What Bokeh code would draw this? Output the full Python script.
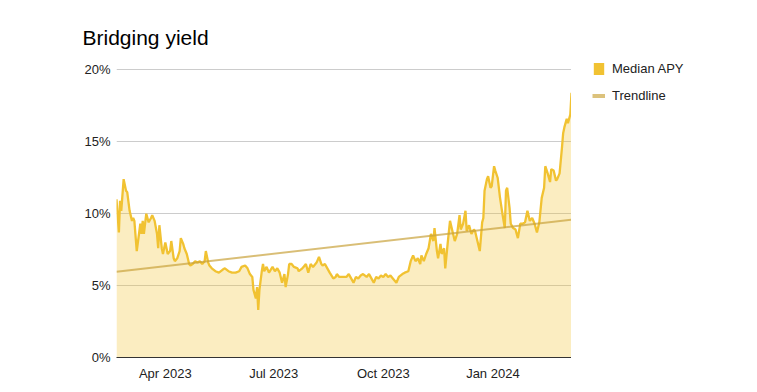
import pandas as pd
from bokeh.plotting import figure
from bokeh.layouts import row
from bokeh.models import (FixedTicker, DatetimeTickFormatter, PrintfTickFormatter,
                          Range1d, Legend, LegendItem, ColumnDataSource)
from bokeh.embed import file_html
from bokeh.resources import INLINE

# ---------------- data ----------------
start_date = "2023-02-19"
# day offsets from start_date
day = [0, 2, 3, 4, 6, 8, 9, 11, 13, 14, 15, 17, 20, 21, 22, 23, 25, 27, 29, 30,
       32, 34, 35, 36, 38, 39, 41, 43, 45, 46, 48, 49, 51, 53, 54, 56, 57, 59, 61, 62,
       64, 66, 68, 70, 72, 74, 75, 77, 78, 80, 83, 86, 89, 91, 94, 97, 100, 103, 105, 108,
       110, 112, 114, 115, 117, 118, 119, 120, 122, 123, 124, 126, 128, 131, 133, 135, 137, 139, 141, 142,
       144, 145, 147, 149, 152, 153, 156, 157, 159, 161, 163, 165, 167, 168, 170, 172, 173, 175, 177, 179,
       182, 184, 185, 187, 190, 193, 195, 197, 199, 201, 203, 205, 207, 210, 212, 214, 216, 218, 220, 222,
       224, 226, 228, 230, 232, 235, 237, 240, 242, 245, 247, 249, 251, 253, 255, 256, 258, 260, 262, 264,
       266, 267, 269, 270, 272, 273, 275, 276, 278, 280, 282, 284, 286, 288, 289, 291, 293, 294, 296, 298,
       300, 301, 303, 305, 307, 308, 309, 311, 312, 314, 315, 317, 318, 320, 322, 324, 326, 327, 328, 330,
       331, 333, 335, 336, 337, 339, 341, 343, 345, 347, 349, 351, 353, 355, 357, 359, 360, 362, 364, 365,
       367, 369, 370, 372, 374, 375, 376, 378, 379, 381, 382]
median_apy = [11.0, 8.7, 10.9, 10.2, 12.4, 11.6, 11.5, 10.2, 9.5, 9.7, 9.5, 7.4, 9.3, 8.6, 9.5, 8.6, 10.0, 9.4, 9.7, 9.9,
              9.5, 8.6, 7.6, 9.2, 7.6, 7.2, 8.0, 7.2, 7.4, 8.1, 6.9, 6.7, 6.9, 7.4, 8.3, 7.9, 7.6, 7.2, 6.5, 6.4,
              6.5, 6.7, 6.6, 6.7, 6.5, 6.7, 7.4, 6.6, 6.4, 6.2, 6.0, 5.9, 6.1, 6.2, 6.0, 5.9, 5.9, 6.0, 6.3, 6.4,
              6.2, 5.8, 5.6, 4.7, 4.1, 4.9, 3.3, 4.7, 6.0, 6.5, 6.0, 6.3, 5.9, 6.3, 6.0, 6.2, 5.9, 5.2, 5.8, 4.9,
              5.8, 6.5, 6.5, 6.3, 6.2, 6.0, 6.2, 6.3, 6.5, 5.9, 6.5, 6.3, 6.5, 6.6, 7.0, 6.5, 6.4, 6.5, 6.2, 5.9,
              5.5, 5.6, 5.8, 5.6, 5.6, 5.6, 5.8, 5.5, 5.2, 5.6, 5.5, 5.7, 5.8, 5.6, 5.8, 5.5, 5.2, 5.6, 5.5, 5.7,
              5.6, 5.8, 5.6, 5.7, 5.5, 5.2, 5.6, 5.8, 5.9, 6.0, 6.7, 7.1, 6.7, 6.9, 6.5, 7.1, 6.7, 7.2, 7.6, 8.6,
              8.1, 9.0, 7.4, 6.9, 7.9, 7.2, 7.6, 6.2, 7.9, 9.5, 8.8, 8.1, 8.6, 9.9, 8.9, 9.3, 10.2, 8.8, 9.2, 8.6,
              8.9, 8.8, 8.1, 7.4, 9.4, 9.7, 11.6, 12.4, 12.6, 11.8, 11.9, 13.3, 13.0, 12.5, 11.1, 10.0, 9.0, 11.6, 11.8, 10.4,
              9.3, 9.0, 8.9, 8.6, 8.3, 9.3, 9.3, 9.4, 10.2, 9.5, 9.7, 9.3, 8.7, 9.4, 11.1, 11.8, 13.3, 12.8, 12.2, 13.1,
              13.0, 12.3, 12.4, 12.8, 14.6, 15.6, 16.0, 16.6, 16.3, 16.9, 18.4]
trend_days = [0, 382]
trend_values = [5.97, 9.58]
end_date = "2024-03-07"
x_tick_dates = ["2023-04-01", "2023-07-01", "2023-10-01", "2024-01-01"]
y_ticks = [0, 5, 10, 15, 20]

title_text = "Bridging yield"
series_labels = ["Median APY", "Trendline"]

# ---------------- build ----------------
FONT = "Liberation Sans"
YELLOW = "#f1c232"

t0 = pd.Timestamp(start_date)
dates = [t0 + pd.Timedelta(days=d) for d in day]
tdates = [t0 + pd.Timedelta(days=d) for d in trend_days]
src = ColumnDataSource(dict(date=dates, v=median_apy))

# y range extends a little past the top gridline (invisible headroom) so the
# legend figure, whose frame is aligned with this one, has room for its first row
p = figure(width=571, height=384, x_axis_type="datetime",
           output_backend="svg", toolbar_location=None,
           x_range=Range1d(t0, pd.Timestamp(end_date)), y_range=Range1d(0, 21),
           min_border_left=116, min_border_right=0, min_border_top=55, min_border_bottom=27)
p.outline_line_color = None
p.background_fill_color = "white"
p.border_fill_color = "white"

p.title.text = title_text
p.title.text_font = FONT
p.title.text_font_size = "21px"
p.title.text_font_style = "normal"
p.title.text_color = "#000000"
p.title.align = "left"
p.title.offset = -34
p.title.standoff = 14

area = p.varea(x="date", y1=0, y2="v", source=src, fill_color=YELLOW, fill_alpha=0.3)
line = p.line(x="date", y="v", source=src, line_color=YELLOW, line_width=2.3)
trend = p.line(x=tdates, y=trend_values, line_color="#c9a33c", line_alpha=0.7, line_width=2)

p.xgrid.grid_line_color = None
p.ygrid.grid_line_color = "#cccccc"
p.ygrid.ticker = FixedTicker(ticks=y_ticks)

xa = p.xaxis[0]
xa.ticker = FixedTicker(ticks=[pd.Timestamp(d).value / 1e6 for d in x_tick_dates])
xa.formatter = DatetimeTickFormatter(months="%b %Y", days="%b %Y", years="%b %Y")
xa.axis_line_color = "#333333"
xa.axis_line_width = 1
xa.major_tick_line_color = None
xa.minor_tick_line_color = None
xa.major_tick_out = 0
xa.major_tick_in = 0
xa.major_label_text_font = FONT
xa.major_label_text_font_size = "13px"
xa.major_label_text_color = "#222222"
xa.major_label_standoff = 8

ya = p.yaxis[0]
ya.ticker = FixedTicker(ticks=y_ticks)
ya.formatter = PrintfTickFormatter(format="%d%%")
ya.axis_line_color = None
ya.major_tick_line_color = None
ya.minor_tick_line_color = None
ya.major_tick_out = 0
ya.major_tick_in = 0
ya.major_label_text_font = FONT
ya.major_label_text_font_size = "13px"
ya.major_label_text_color = "#222222"
ya.major_label_standoff = 6

# ---------------- legend panel (separate figure to the right) ----------------
lg = figure(width=178, height=384, output_backend="svg", toolbar_location=None,
            x_range=Range1d(0, 1), y_range=Range1d(0, 1),
            x_axis_location=None, y_axis_location=None,
            min_border_left=0, min_border_right=0, min_border_top=0, min_border_bottom=0)
lg.outline_line_color = None
lg.grid.visible = False
lg.background_fill_color = "white"
lg.border_fill_color = "white"

sw1 = lg.quad(left=[0], right=[0], top=[0], bottom=[0], fill_color=YELLOW, line_color=None)
sw2 = lg.line(x=[0, 0], y=[0, 0], line_color="#dcc27c", line_width=4)

legend = Legend(items=[LegendItem(label=series_labels[0], renderers=[sw1]),
                       LegendItem(label=series_labels[1], renderers=[sw2])],
                location=(21, 254), orientation="vertical",
                padding=0, margin=0, spacing=12, glyph_width=13, glyph_height=15,
                label_height=14, label_standoff=7,
                label_text_font=FONT, label_text_font_size="13px", label_text_color="#222222",
                border_line_color=None, background_fill_alpha=0)
lg.add_layout(legend, "center")

layout = row(p, lg)
open("out.html", "w").write(file_html(layout, INLINE))
